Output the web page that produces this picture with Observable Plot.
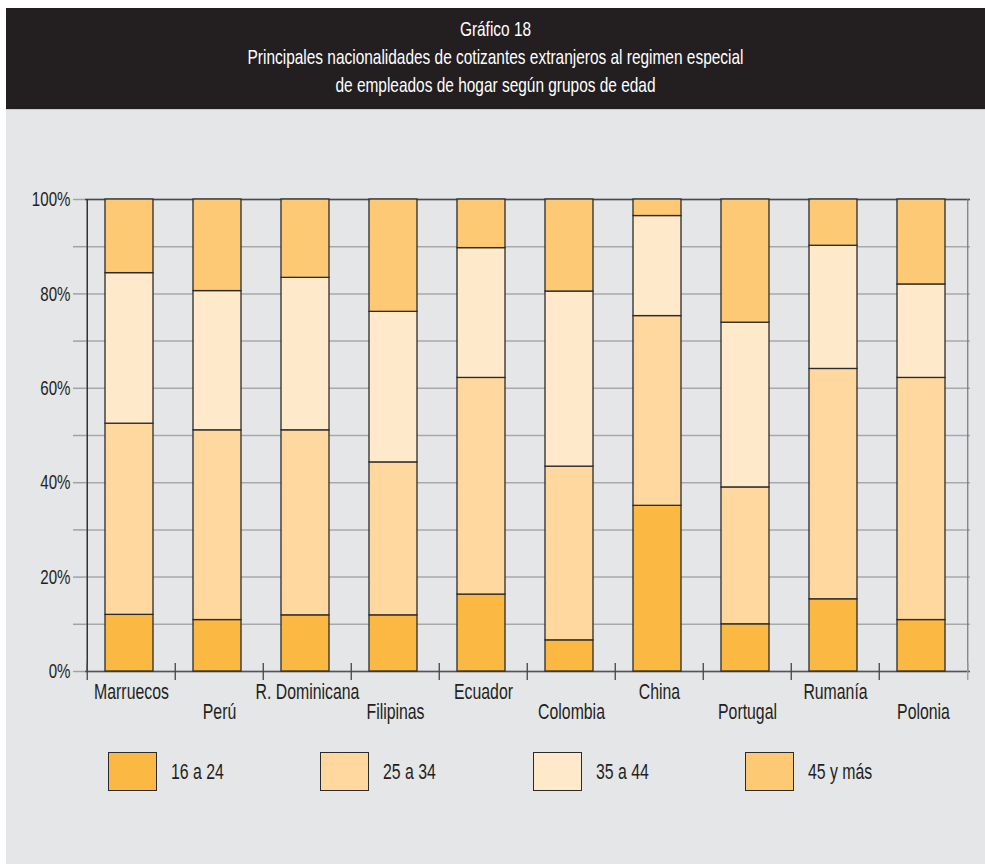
<!DOCTYPE html>
<html><head><meta charset="utf-8">
<script src="https://cdn.jsdelivr.net/npm/d3@7"></script>
<script src="https://cdn.jsdelivr.net/npm/@observablehq/plot@0.6"></script>
<style>
body{margin:0;background:#fff;}
#page{position:relative;width:985px;height:864px;background:#fff;font-family:"Liberation Sans",Arial,sans-serif;overflow:hidden;color:#231f20}
#title{position:absolute;left:6px;top:8px;width:979px;height:101px;background:#231f20;color:#fff;text-align:center;font-size:21px;line-height:28px;box-sizing:border-box;padding-top:7px}
#title div{transform:scaleX(0.735);transform-origin:center;white-space:nowrap}
#panel{position:absolute;left:6px;top:109px;width:979px;height:755px;background:#e5e6e8;border-top:1px solid #c9cacc;box-sizing:border-box}
#chart{position:absolute;left:0;top:109px}
.lg{position:absolute;top:752px;height:39px;display:flex;align-items:center;font-size:22px}
.lg .sw{width:47px;height:37px;border:1.5px solid #2b2b2b;margin-right:14px;flex:none}
.lg span{display:inline-block;transform:scaleX(0.72);transform-origin:left center;white-space:nowrap}
</style></head>
<body><div id="page">
<div id="panel"></div>
<div id="title"><div>Gráfico 18</div><div>Principales nacionalidades de cotizantes extranjeros al regimen especial</div><div>de empleados de hogar según grupos de edad</div></div>
<div id="chart"></div>
<div id="legend"></div>
</div>
<script>
const countries = ["Marruecos","Perú","R. Dominicana","Filipinas","Ecuador","Colombia","China","Portugal","Rumanía","Polonia"];
const groups = ["16 a 24","25 a 34","35 a 44","45 y más"];
const colors = ["#fbb843","#fed89e","#fee9cb","#fdc974"];
const g16_24 = [12.0, 10.9, 11.9, 11.9, 16.3, 6.6, 35.1, 10.0, 15.3, 10.9];
const g25_34 = [40.5, 40.2, 39.2, 32.4, 45.9, 36.8, 40.2, 29.0, 48.8, 51.3];
const g35_44 = [31.9, 29.5, 32.3, 31.9, 27.5, 37.1, 21.2, 34.9, 26.1, 19.8];
const g45mas = [15.6, 19.4, 16.6, 23.8, 10.3, 19.5, 3.5, 26.1, 9.8, 18.0];
const yTicks = [0,0.1,0.2,0.3,0.4,0.5,0.6,0.7,0.8,0.9,1];

const series = [g16_24, g25_34, g35_44, g45mas];
const rows = countries.flatMap((c, i) => series.map((arr, g) => ({country: c, group: groups[g], value: arr[i]})));

const W = 985, H = 620, mL = 85, mR = 15, mT = 90, mB = 58;
const step = (W - mL - mR) / countries.length;
const font = '"Liberation Sans",Arial,sans-serif';

const chart = Plot.plot({
  width: W, height: H, marginLeft: mL, marginRight: mR, marginTop: mT, marginBottom: mB,
  style: {background: "transparent", fontFamily: font, fontSize: "21px", color: "#231f20"},
  x: {domain: countries, paddingInner: 0.45, paddingOuter: 0.225, axis: null},
  y: {domain: [0, 1], axis: null},
  color: {domain: groups, range: colors},
  marks: [
    Plot.ruleY(yTicks, {stroke: "#a8a9ab", strokeWidth: 1.5}),
    Plot.ruleY([1], {stroke: "#4a4a4a", strokeWidth: 1.5}),
    Plot.ruleY([0], {stroke: "#555", strokeWidth: 1.5}),
    Plot.axisY({ticks: yTicks, tickSize: 12, tickPadding: 3, stroke: "#a0a1a3", strokeWidth: 1.5, fill: "#231f20", fontSize: 21,
      tickFormat: d => Math.round(d * 100) % 20 === 0 ? Math.round(d * 100) + "%" : "", label: null}),
    Plot.ruleX([countries[0]], {x: d => d, dx: -step / 2, stroke: "#333", strokeWidth: 1.5}),
    Plot.ruleX([countries[countries.length - 1]], {x: d => d, dx: step / 2, stroke: "#777", strokeWidth: 1.2}),
    Plot.ruleX(countries, {x: d => d, dx: -step / 2, y1: 0, y2: 0, insetTop: -8, insetBottom: -9, stroke: "#444", strokeWidth: 1.3}),
    Plot.ruleX([countries[countries.length - 1]], {x: d => d, dx: step / 2, y1: 0, y2: 0, insetTop: -8, insetBottom: -9, stroke: "#999", strokeWidth: 1.3}),
    Plot.barY(rows, Plot.stackY({offset: "normalize"}, {x: "country", y: "value", fill: "group", stroke: "#2b2b2b", strokeWidth: 1.3, dx: -2})),
    Plot.text(countries.filter((_, i) => i % 2 === 0), {x: d => d, frameAnchor: "bottom", lineAnchor: "middle", dy: 20, fill: "#231f20", fontSize: 22}),
    Plot.text(countries.filter((_, i) => i % 2 === 1), {x: d => d, frameAnchor: "bottom", lineAnchor: "middle", dy: 40, fill: "#231f20", fontSize: 22})
  ]
});
// condense the text horizontally (about its anchor point) to imitate the original's condensed face
chart.querySelectorAll("text").forEach(t => {
  const tr = t.getAttribute("transform") || "";
  const px = parseFloat(t.getAttribute("x")) || 0;
  t.setAttribute("transform", `${tr} translate(${px},0) scale(0.72,1) translate(${-px},0)`);
});
document.getElementById("chart").appendChild(chart);

const legend = document.getElementById("legend");
groups.forEach((g, i) => {
  const item = document.createElement("div");
  item.className = "lg";
  item.style.left = (108 + 212.3 * i) + "px";
  const sw = document.createElement("div");
  sw.className = "sw";
  sw.style.background = colors[i];
  const t = document.createElement("span");
  t.textContent = g;
  item.appendChild(sw); item.appendChild(t);
  legend.appendChild(item);
});
</script>
</body></html>
